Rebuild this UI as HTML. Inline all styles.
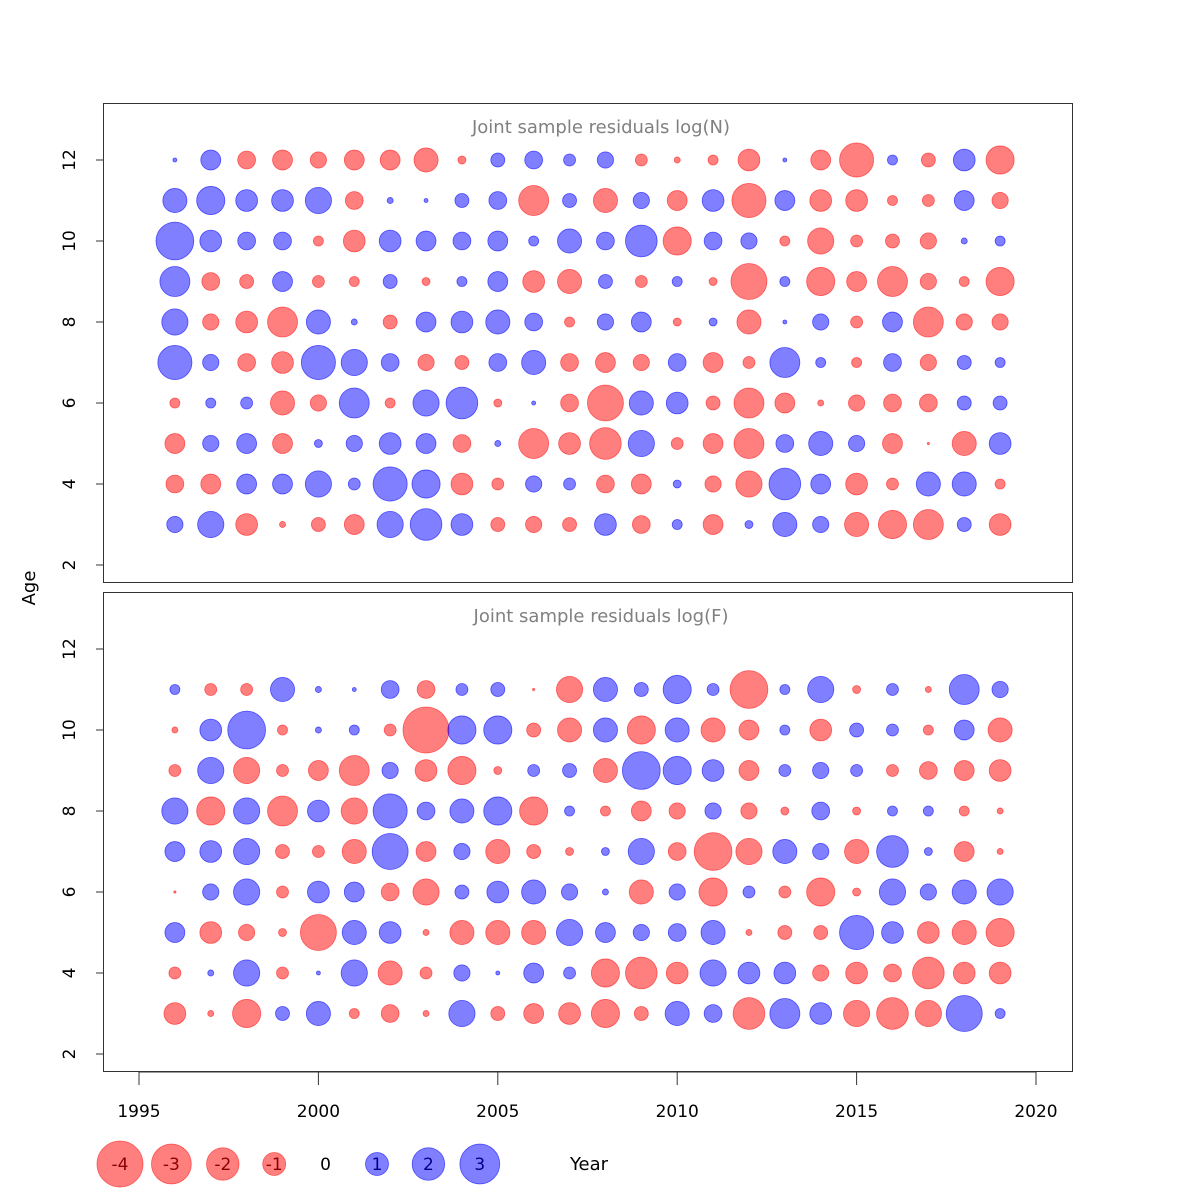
<!DOCTYPE html>
<html><head><meta charset="utf-8"><style>
html,body{margin:0;padding:0;background:#fff}
svg{display:block;font-family:"DejaVu Sans","Liberation Sans",sans-serif}
</style></head><body>
<svg id="chart" width="1200" height="1200" viewBox="0 0 1200 1200" xmlns="http://www.w3.org/2000/svg">
<rect x="0" y="0" width="1200" height="1200" fill="#fff"/>
<g id="top-panel"></g>
<g id="bottom-panel"></g>
<g id="x-axis"></g>
<g id="legend"></g>
<text x="0" y="0" transform="translate(35,588) rotate(-90)" text-anchor="middle" font-size="18" fill="#000">Age</text>
<text x="589" y="1170" text-anchor="middle" font-size="18" fill="#000">Year</text>
</svg>
<script>
const years = [1996,1997,1998,1999,2000,2001,2002,2003,2004,2005,2006,2007,2008,2009,2010,2011,2012,2013,2014,2015,2016,2017,2018,2019];
const agesTop = [12,11,10,9,8,7,6,5,4,3];
const agesBottom = [11,10,9,8,7,6,5,4,3];
const yTicks = [2,4,6,8,10,12];
const xTicks = [1995,2000,2005,2010,2015,2020];
const legendValues = [-4,-3,-2,-1,0,1,2,3];
const residN = [
[0.03,0.75,-0.6,-0.75,-0.5,-0.75,-0.75,-1.1,-0.12,0.37,0.6,0.27,0.5,-0.27,-0.07,-0.19,-0.9,0.03,-0.75,-2.2,0.19,-0.37,0.9,-1.5],
[1.1,1.5,0.9,0.9,1.3,-0.6,0.07,0.03,0.37,0.6,-1.7,0.37,-1.1,0.5,-0.75,0.9,-2.2,0.75,-0.9,-0.9,-0.19,-0.27,0.75,-0.5],
[2.7,0.9,0.6,0.6,-0.19,-0.9,0.9,0.75,0.6,0.75,0.19,1.1,0.6,1.9,-1.5,0.6,0.5,-0.19,-1.3,-0.27,-0.37,-0.5,0.07,0.19],
[1.7,-0.6,-0.37,0.75,-0.27,-0.19,0.37,-0.12,0.19,0.75,-0.9,-1.1,0.37,-0.27,0.19,-0.12,-2.45,0.19,-1.5,-0.75,-1.7,-0.5,-0.19,-1.5],
[1.3,-0.5,-0.9,-1.7,1.1,0.07,-0.37,0.75,0.9,1.1,0.6,-0.19,0.5,0.75,-0.12,0.12,-1.1,0.03,0.5,-0.27,0.75,-1.7,-0.5,-0.5],
[2.2,0.5,-0.6,-0.9,2.2,1.3,0.6,-0.5,-0.37,0.6,1.1,-0.6,-0.75,-0.5,0.6,-0.75,-0.27,1.7,0.19,-0.19,0.6,-0.5,0.37,0.19],
[-0.19,0.19,0.27,-1.1,-0.5,1.7,-0.19,1.3,1.9,-0.12,0.03,-0.6,-2.45,1.1,0.9,-0.37,-1.7,-0.75,-0.07,-0.5,-0.6,-0.6,0.37,0.37],
[-0.75,0.5,0.75,-0.75,0.12,0.5,0.9,0.75,-0.6,0.07,-1.7,-0.9,-1.9,1.3,-0.27,-0.75,-1.7,0.6,1.1,0.5,-0.75,-0.01,-1.1,0.9],
[-0.6,-0.75,0.75,0.75,1.3,0.27,2.2,1.5,-0.9,-0.27,0.5,0.27,-0.6,-0.75,0.12,-0.5,-1.3,1.9,0.75,-0.9,-0.27,1.1,1.1,-0.19],
[0.5,1.3,-0.9,-0.07,-0.37,-0.75,1.3,1.9,0.9,-0.37,-0.5,-0.37,0.9,-0.6,0.19,-0.75,0.12,1.1,0.5,-1.1,-1.5,-1.7,0.37,-0.9]
];
const residF = [
[0.19,-0.27,-0.27,1.1,0.07,0.03,0.6,-0.6,0.27,0.37,-0.01,-1.3,1.1,0.37,1.5,0.27,-2.7,0.19,1.3,-0.12,0.27,-0.07,1.7,0.5],
[-0.07,0.9,2.7,-0.19,0.07,0.19,-0.27,-4.0,1.5,1.5,-0.37,-1.1,1.1,-1.5,1.1,-1.1,-0.75,0.19,-0.9,0.37,0.27,-0.19,0.75,-1.1],
[-0.27,1.3,-1.3,-0.27,-0.75,-1.7,0.5,-0.9,-1.5,-0.12,0.27,0.37,-1.1,2.7,1.5,0.9,-0.75,0.27,0.5,0.27,-0.27,-0.6,-0.75,-0.9],
[1.3,-1.5,1.3,-1.7,0.9,-1.3,2.2,0.6,1.1,1.5,-1.5,0.19,-0.19,-0.75,-0.5,0.5,-0.5,-0.12,0.6,-0.12,0.19,0.19,-0.19,-0.07],
[0.75,0.9,1.3,-0.37,-0.27,-1.1,2.45,-0.75,0.5,-1.1,-0.37,-0.12,0.12,1.3,-0.6,-2.7,-1.3,1.1,0.5,-1.1,1.9,0.12,-0.75,-0.07],
[-0.01,0.5,1.3,-0.27,0.9,0.75,-0.6,-1.3,0.37,0.9,1.1,0.5,0.07,-1.1,0.5,-1.5,0.27,-0.27,-1.5,-0.12,1.3,0.5,1.1,1.3],
[0.75,-0.9,-0.5,-0.12,-2.45,1.1,0.9,-0.07,-1.1,-1.1,-1.1,1.3,0.75,0.5,0.6,1.1,-0.07,-0.37,-0.37,2.2,0.9,-0.9,-1.1,-1.5],
[-0.27,0.07,1.3,-0.27,0.03,1.3,-1.1,-0.27,0.5,0.03,0.75,0.27,-1.5,-1.9,-0.9,1.3,0.9,0.9,-0.5,-0.9,-0.6,-1.9,-0.9,-0.9],
[-0.9,-0.07,-1.5,0.37,1.1,-0.19,-0.6,-0.07,1.3,-0.37,-0.75,-0.9,-1.5,-0.37,1.1,0.6,-1.9,1.7,0.9,-1.3,-1.9,-1.3,2.45,0.19]
];

const NS = "http://www.w3.org/2000/svg";
const RSCALE = 11.5;
function xScale(yr){ return 139 + (yr - 1995) * (1036 - 139) / 25; }
function mk(tag, attrs, parent){
  const e = document.createElementNS(NS, tag);
  for (const k in attrs) e.setAttribute(k, attrs[k]);
  parent.appendChild(e); return e;
}
function rad(v){ return RSCALE * Math.sqrt(Math.abs(v)); }
function fillOf(v){ return v < 0 ? "rgba(255,0,0,0.5)" : "rgba(0,0,255,0.5)"; }
function strokeOf(v){ return v < 0 ? "rgba(255,0,0,0.55)" : "rgba(0,0,255,0.6)"; }

function drawPanel(g, top, bottom, title, ages, values){
  const y2 = top + 462, y12 = top + 57; // age 2 and 12 pixel positions
  const yScale = a => y2 + (a - 2) * (y12 - y2) / 10;
  const box = mk("rect", {x:103.5, y:top+0.5, width:969, height:479, fill:"none", stroke:"#333", "stroke-width":1}, g);
  
  
  const t = mk("text", {x:601, y:top+30, "text-anchor":"middle", "font-size":18, fill:"#808080"}, g);
  t.textContent = title;
  
  
  yTicks.forEach(v => {
    const y = yScale(v);
    const tk = mk("line", {x1:96, x2:103, y1:y, y2:y, stroke:"#333"}, g);
    
    
    const lb = mk("text", {x:0, y:0, transform:`translate(75,${y}) rotate(-90)`, "text-anchor":"middle", "font-size":17, fill:"#000"}, g);
    lb.textContent = v;
    
    
  });
  ages.forEach((a, i) => {
    years.forEach((yr, j) => {
      const v = values[i][j];
      const c = mk("circle", {cx:xScale(yr), cy:yScale(a), r:rad(v), fill:fillOf(v), stroke:strokeOf(v), "stroke-width":0.8}, g);
      
      
    });
  });
}
drawPanel(document.getElementById("top-panel"), 103, 582, "Joint sample residuals log(N)", agesTop, residN);
drawPanel(document.getElementById("bottom-panel"), 592, 1071, "Joint sample residuals log(F)", agesBottom, residF);

const xa = document.getElementById("x-axis");
xTicks.forEach(yr => {
  const x = xScale(yr);
  const tk = mk("line", {x1:x, x2:x, y1:1072, y2:1085, stroke:"#333"}, xa);
  
  
  const lb = mk("text", {x:x, y:1117, "text-anchor":"middle", "font-size":17, fill:"#000"}, xa);
  lb.textContent = yr;
  
  
});
const ax = mk("line", {x1:xScale(1995), x2:xScale(2020), y1:1072, y2:1072, stroke:"#333"}, xa);



const lg = document.getElementById("legend");
legendValues.forEach((v, i) => {
  const x = 120 + i * 51.4, y = 1164;
  if (v !== 0) {
    const c = mk("circle", {cx:x, cy:y, r:rad(v), fill:fillOf(v), stroke:strokeOf(v), "stroke-width":0.8}, lg);
    
    
  }
  const t = mk("text", {x:x, y:y+6, "text-anchor":"middle", "font-size":17, fill: v < 0 ? "#8b0000" : (v > 0 ? "#00008b" : "#000")}, lg);
  t.textContent = v;
  
  
});
</script>
</body></html>
